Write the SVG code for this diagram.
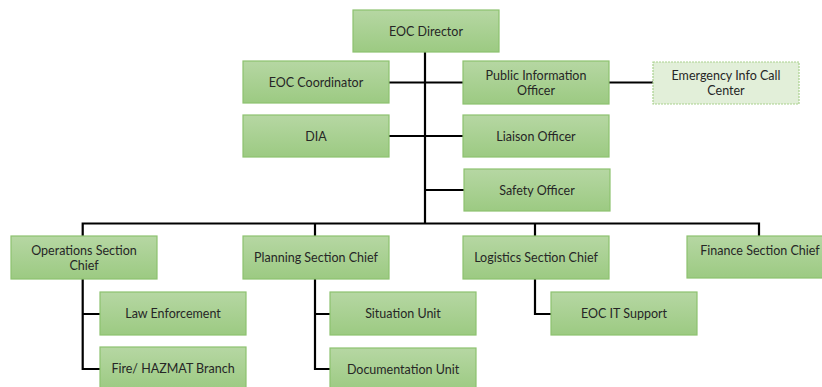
<svg xmlns="http://www.w3.org/2000/svg" width="822" height="387" viewBox="0 0 822 387">
<defs>
<linearGradient id="g" x1="0" y1="0" x2="0" y2="1">
<stop offset="0" stop-color="#b6d7a3"/>
<stop offset="1" stop-color="#9cca82"/>
</linearGradient>
<style>
.box{fill:url(#g);stroke:#8dc26f;stroke-width:1.2}
.lite{fill:#e2efd9;stroke:#a9d18e;stroke-width:1.2;stroke-dasharray:2 1}
text{font-family:Lato,"Open Sans","Liberation Sans",sans-serif;font-size:12.5px;fill:#262626;text-anchor:middle}
.c{fill:none;stroke:#000;stroke-width:2.2}
</style>
</defs>
<rect width="822" height="387" fill="#fff"/>
<g id="connectors">
<path class="c" d="M425,52V223.5M389,82.5H463M609,82.5H653M389,136H463M425,190H464M82.7,237V223.5H759V236M315,223.5V236M535,223.5V236M82.7,279V369H100M82.7,314H100M315,279V369H330M315,314H330M535,279V314H551"/>
</g>
<g id="director"><rect class="box" x="353" y="10" width="146" height="42"/><text x="426" y="35.5">EOC Director</text></g>
<g id="coordinator"><rect class="box" x="243" y="61" width="146" height="42"/><text x="316" y="86.5">EOC Coordinator</text></g>
<g id="pio"><rect class="box" x="463" y="61" width="146" height="43"/><text x="536" y="80">Public Information</text><text x="536" y="94.5">Officer</text></g>
<g id="callcenter"><rect class="lite" x="653" y="62" width="146" height="42"/><text x="726" y="80">Emergency Info Call</text><text x="726" y="94.5">Center</text></g>
<g id="dia"><rect class="box" x="243" y="115" width="146" height="42"/><text x="316" y="140.5">DIA</text></g>
<g id="liaison"><rect class="box" x="463" y="115" width="146" height="42"/><text x="536" y="140.5">Liaison Officer</text></g>
<g id="safety"><rect class="box" x="464" y="169" width="146" height="42"/><text x="537" y="194.5">Safety Officer</text></g>
<g id="operations"><rect class="box" x="11" y="236" width="146" height="43"/><text x="84" y="255">Operations Section</text><text x="84" y="269.5">Chief</text></g>
<g id="planning"><rect class="box" x="243" y="236" width="146" height="43"/><text x="316" y="261.5">Planning Section Chief</text></g>
<g id="logistics"><rect class="box" x="463" y="236" width="146" height="43"/><text x="536" y="261.5">Logistics Section Chief</text></g>
<g id="finance"><rect class="box" x="687" y="236" width="146" height="42"/><text x="760" y="255">Finance Section Chief</text></g>
<g id="law"><rect class="box" x="100" y="292" width="146" height="43"/><text x="173" y="318">Law Enforcement</text></g>
<g id="fire"><rect class="box" x="100" y="347" width="146" height="43"/><text x="173" y="373">Fire/ HAZMAT Branch</text></g>
<g id="situation"><rect class="box" x="330" y="292" width="146" height="43"/><text x="403" y="318">Situation Unit</text></g>
<g id="documentation"><rect class="box" x="330" y="348" width="146" height="43"/><text x="403" y="373.5">Documentation Unit</text></g>
<g id="itsupport"><rect class="box" x="551" y="292" width="146" height="43"/><text x="624" y="318">EOC IT Support</text></g>
</svg>
